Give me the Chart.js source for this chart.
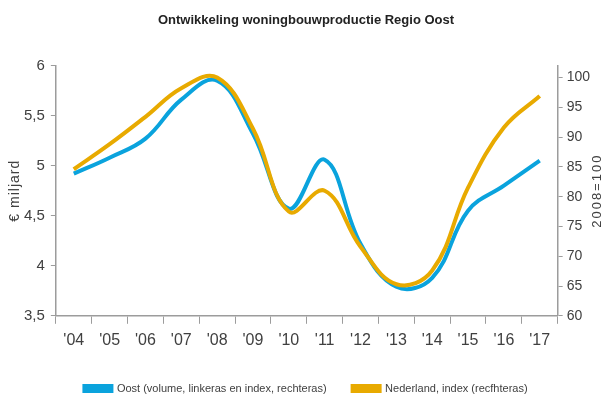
<!DOCTYPE html>
<html>
<head>
<meta charset="utf-8">
<script src="https://cdn.jsdelivr.net/npm/chart.js@4"></script>
<style>
html,body{margin:0;padding:0;background:#fff;}
#wrap{width:603px;height:400px;}
</style>
</head>
<body>
<div id="wrap"><canvas id="chart" width="603" height="400"></canvas></div>
<script>
let years=["'04","'05","'06","'07","'08","'09","'10","'11","'12","'13","'14","'15","'16","'17"];

// Oost, volume in € miljard (linkeras)
let oost=[4.92,5.08,5.27,5.66,5.85,5.32,4.57,5.06,4.22,3.79,3.88,4.55,4.80,5.05];

// Nederland, index 2008=100 (rechteras)
let nederland=[84.6,88.8,93.4,98.2,100,91.4,77.5,81.0,71.6,65.3,67.6,81.5,91.6,96.9];

// tickwaarden rechteras
let indexTicks=[60,65,70,75,80,85,90,95,100];

let legendNames=["Oost (volume, linkeras en index, rechteras)","Nederland, index (recfhteras)"];
let axisTitles=["€ miljard","2008=100"];

let sans="'Liberation Sans','Arial',sans-serif";
let textColor="#404040";
let axisColor="#9c9c9c";

function commaLabel(v){
return String(v).replace(".",",");
}

// astitels, allebei van onder naar boven gelezen
let sideTitles={
id:"sideTitles",
afterDraw(c){
let ctx=c.ctx;
let mid=(c.chartArea.top+c.chartArea.bottom)/2;
ctx.save();
ctx.fillStyle=textColor;
ctx.textAlign="center";
ctx.textBaseline="middle";

ctx.save();
ctx.translate(15,mid);
ctx.rotate(-Math.PI/2);
ctx.font="14px "+sans;
ctx.letterSpacing="1px";
ctx.fillText(axisTitles[0],0,0);
ctx.restore();

ctx.save();
ctx.translate(597,mid);
ctx.rotate(-Math.PI/2);
ctx.font="13px "+sans;
ctx.letterSpacing="2px";
ctx.fillText(axisTitles[1],0,0);
ctx.restore();

ctx.restore();
}
};

let ctx=document.getElementById("chart").getContext("2d");

let chart=new Chart(ctx,{
type:"line",
data:{
labels:years,
datasets:[
{label:legendNames[0],data:oost,yAxisID:"y",borderColor:"#0aa3dd",backgroundColor:"#0aa3dd",borderWidth:4,pointRadius:0,tension:0.4,order:1},
{label:legendNames[1],data:nederland,yAxisID:"y1",borderColor:"#e8aa00",backgroundColor:"#e8aa00",borderWidth:4,pointRadius:0,tension:0.4,order:0}
]
},
options:{
responsive:false,
animation:false,
layout:{padding:{left:18,right:9,top:4,bottom:-4}},
plugins:{
title:{
display:true,
text:"Ontwikkeling woningbouwproductie Regio Oost",
color:"#222",
font:{family:sans,size:13,weight:"bold"},
padding:{top:9,bottom:37}
},
legend:{
position:"bottom",
labels:{
boxWidth:27,
boxHeight:5,
padding:26,
color:textColor,
font:{family:sans,size:11},
sort:(a,b)=>a.datasetIndex-b.datasetIndex
}
},
tooltip:{enabled:false}
},
scales:{
x:{
offset:true,
grid:{drawOnChartArea:false,color:axisColor,tickLength:8,offset:true},
border:{color:axisColor,width:1.5},
ticks:{color:textColor,font:{family:sans,size:16},padding:7,maxRotation:0}
},
y:{
position:"left",
min:3.5,
max:6,
grid:{drawOnChartArea:false,color:axisColor,tickLength:5},
border:{color:axisColor,width:1.5},
ticks:{stepSize:0.5,color:textColor,font:{family:sans,size:15},padding:6,callback:v=>commaLabel(v)}
},
y1:{
position:"right",
min:60,
max:102,
grid:{drawOnChartArea:false,color:axisColor,tickLength:5},
border:{color:axisColor,width:1.5},
ticks:{color:textColor,font:{family:sans,size:14},padding:4},
afterBuildTicks:s=>{s.ticks=indexTicks.map(v=>({value:v}));}
}
}
},
plugins:[sideTitles]
});
</script>
</body>
</html>
